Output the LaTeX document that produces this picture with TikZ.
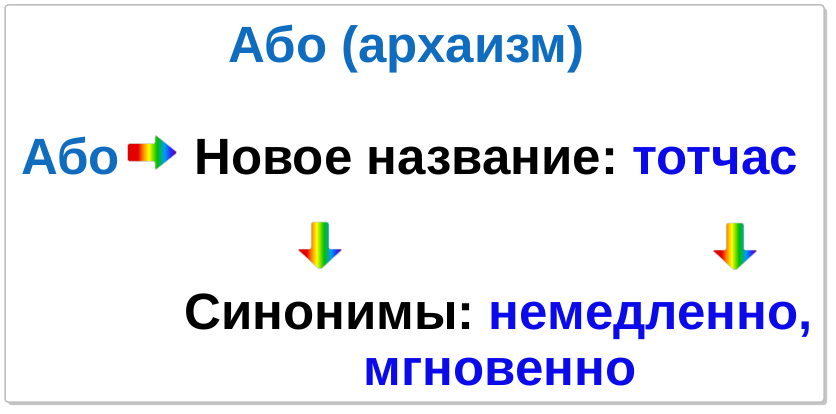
\documentclass[tikz,border=0pt]{standalone}
\usepackage{fontspec}
\setmainfont{Liberation Sans}
\usepackage{xcolor}
\usetikzlibrary{shapes.arrows}
\usetikzlibrary{shadows}
\usetikzlibrary{positioning}
\frenchspacing
\definecolor{titleblue}{RGB}{16,108,190}
\definecolor{wordblue}{RGB}{10,10,235}
\pgfdeclarehorizontalshading{rainbow}{100bp}{color(0bp)=(red!90!black); color(35bp)=(red!90!black);
  color(40bp)=(orange); color(46bp)=(yellow); color(54bp)=(green!75!black);
  color(62bp)=(cyan!60!blue); color(68bp)=(blue!85); color(73bp)=(violet); color(100bp)=(violet)}
\tikzstyle{bigtext} = [inner sep=0pt, font=\fontsize{51}{60}\selectfont\bfseries]
\tikzstyle{rarrow} = [single arrow, shade, shading=rainbow, draw=black!20, line width=0.6pt,
                      rounded corners=2pt, inner xsep=0pt, inner ysep=8.5pt]
\tikzstyle{framebox} = [draw=black!25, line width=1.5pt, fill=white, rounded corners=3pt,
                        drop shadow={shadow xshift=3pt, shadow yshift=-3pt, fill=black!45}]

\begin{document}
\begin{tikzpicture}[x=1pt,y=1pt]
    \useasboundingbox (0,0) rectangle (836,-414);
    \draw[framebox] (5,-5) rectangle (824,-402);
    \node[bigtext, titleblue, anchor=base] (title) at (406.5,-63) {Або (архаизм)};
    \node[bigtext, titleblue, anchor=base west] (abo) at (21,-175) {Або};
    \node[rarrow, minimum height=50pt, single arrow tip angle=77,
          single arrow head extend=9pt] (arrabo) at (147,-152.5) {};
    \node[bigtext, anchor=base west] (newname) at (194,-175) {Новое название: \textcolor{wordblue}{тотчас}};
    \node[rarrow, rotate=-90, minimum height=48pt, single arrow tip angle=95,
          single arrow head extend=14pt] (downa) at (320,-242) {};
    \node[rarrow, rotate=-90, minimum height=48pt, single arrow tip angle=95,
          single arrow head extend=14pt] (downb) at (735,-243) {};
    \node[bigtext, anchor=base west] (syn) at (184,-330) {Синонимы: \textcolor{wordblue}{немедленно,}};
    \node[bigtext, wordblue, anchor=base] (mgn) at (500,-385) {мгновенно};
\end{tikzpicture}
\end{document}
